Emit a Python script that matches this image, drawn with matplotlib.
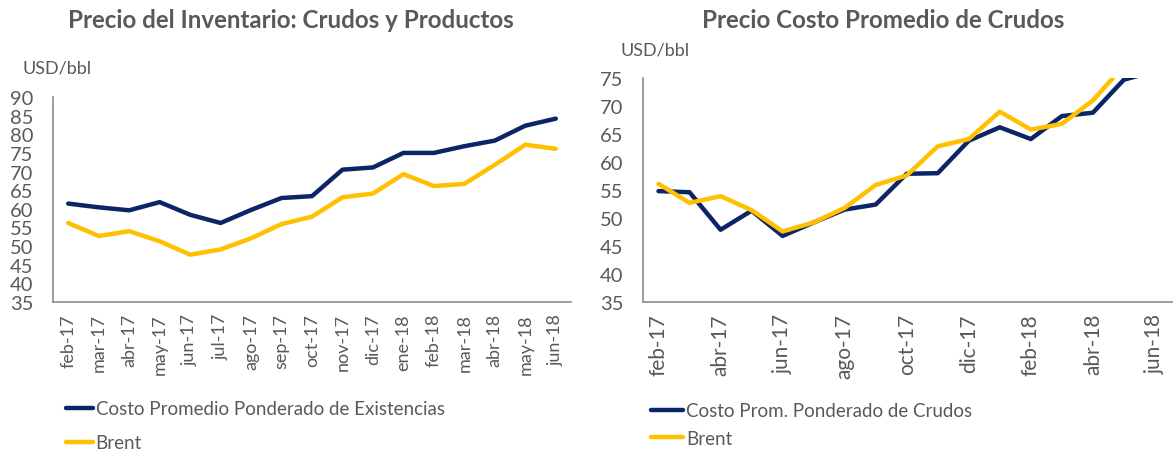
import matplotlib
matplotlib.use("Agg")
import matplotlib.pyplot as plt

plt.rcParams['font.family'] = ['Lato', 'DejaVu Sans']

months_all = ["feb-17", "mar-17", "abr-17", "may-17", "jun-17", "jul-17", "ago-17",
              "sep-17", "oct-17", "nov-17", "dic-17", "ene-18", "feb-18", "mar-18",
              "abr-18", "may-18", "jun-18"]

# Left chart: inventory price (crudes and products)
costo_existencias = [61.4, 60.4, 59.6, 61.8, 58.4, 56.2, 59.7, 62.9, 63.4, 70.5,
                     71.1, 75.0, 75.0, 76.8, 78.3, 82.3, 84.2]
brent = [56.2, 52.7, 54.0, 51.3, 47.7, 49.1, 52.1, 55.9, 57.9, 63.1,
         64.1, 69.3, 66.1, 66.7, 71.8, 77.2, 76.1]

# Right chart: crude average cost
costo_crudos = [54.8, 54.6, 47.9, 51.3, 46.8, 49.2, 51.5, 52.4, 57.9, 58.0,
                63.8, 66.2, 64.1, 68.2, 68.8, 74.7, 76.2]
brent_r = [56.1, 52.7, 53.9, 51.4, 47.6, 49.2, 51.8, 55.9, 57.6, 62.8,
           64.1, 69.0, 65.8, 66.8, 71.0, 77.2, 76.1]

left_title = "Precio del Inventario: Crudos y Productos"
right_title = "Precio Costo Promedio de Crudos"
left_labels = ["Costo Promedio Ponderado de Existencias", "Brent"]
right_labels = ["Costo Prom. Ponderado de Crudos", "Brent"]

NAVY = "#0b2566"
GOLD = "#ffc000"
GRAY = "#595959"
SPINE = "#8c8c8c"

fig = plt.figure(figsize=(11.74, 4.52), dpi=100)
W, H = 1174, 452

def px_axes(x0, y0, x1, y1):
    return fig.add_axes([x0 / W, 1 - y1 / H, (x1 - x0) / W, (y1 - y0) / H])

def style(ax):
    for s in ["top", "right"]:
        ax.spines[s].set_visible(False)
    for s in ["left", "bottom"]:
        ax.spines[s].set_color(SPINE)
        ax.spines[s].set_linewidth(1.2)
    ax.tick_params(length=0, colors=GRAY)

x = list(range(len(months_all)))

# ---- Left
ax1 = px_axes(53, 98, 571, 303)
style(ax1)
l1, = ax1.plot(x, costo_existencias, color=NAVY, lw=3.2, solid_capstyle='round')
l2, = ax1.plot(x, brent, color=GOLD, lw=3.2, solid_capstyle='round')
ax1.set_xlim(-0.5, len(x) - 0.5)
ax1.set_ylim(35, 90)
ax1.set_yticks(range(35, 91, 5))
ax1.set_xticks(x)
ax1.set_xticklabels(months_all, rotation=90, fontsize=13, color=GRAY)
ax1.tick_params(axis='y', labelsize=14.5, pad=14)
ax1.tick_params(axis='x', pad=8)
fig.text(291 / W, 1 - 20 / H, left_title, ha='center', va='center',
         fontsize=17.4, fontweight='bold', color=GRAY)
fig.text(22 / W, 1 - 68 / H, "USD/bbl", ha='left', va='center', fontsize=13, color=GRAY)
ax1.legend([l1, l2], left_labels, loc='upper left',
           bbox_to_anchor=(58 / W, 1 - 394 / H), bbox_transform=fig.transFigure,
           frameon=False, fontsize=13.5, handlelength=1.45, handletextpad=0.15,
           labelspacing=0.9, labelcolor=GRAY, borderaxespad=0)

# ---- Right
ax2 = px_axes(643, 79, 1172, 303)
style(ax2)
r1, = ax2.plot(x, costo_crudos, color=NAVY, lw=3.2, solid_capstyle='round')
r2, = ax2.plot(x, brent_r, color=GOLD, lw=3.2, solid_capstyle='round')
ax2.set_xlim(-0.5, len(x) - 0.45)
ax2.set_ylim(35, 75)
ax2.set_yticks(range(35, 76, 5))
ax2.set_xticks(x[::2])
ax2.set_xticklabels(months_all[::2], rotation=90, fontsize=15, color=GRAY)
ax2.tick_params(axis='y', labelsize=14.5, pad=14)
ax2.tick_params(axis='x', pad=8)
fig.text(883 / W, 1 - 20 / H, right_title, ha='center', va='center',
         fontsize=17.4, fontweight='bold', color=GRAY)
fig.text(620 / W, 1 - 50 / H, "USD/bbl", ha='left', va='center', fontsize=13, color=GRAY)
ax2.legend([r1, r2], right_labels, loc='upper left',
           bbox_to_anchor=(643 / W, 1 - 396 / H), bbox_transform=fig.transFigure,
           frameon=False, fontsize=13.5, handlelength=1.75, handletextpad=0.15,
           labelspacing=0.55, labelcolor=GRAY, borderaxespad=0)

fig.savefig("out.png", dpi=100)
